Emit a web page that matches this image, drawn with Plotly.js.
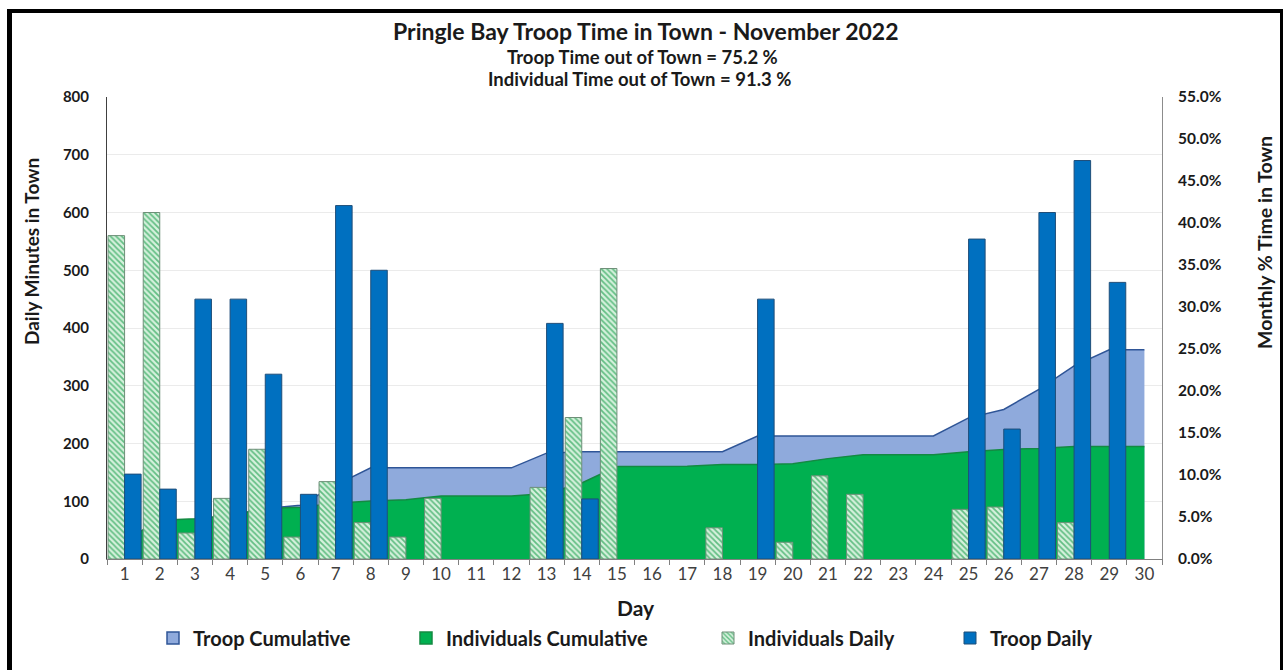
<!DOCTYPE html>
<html>
<head>
<meta charset="utf-8">
<script src="https://cdn.plot.ly/plotly-3.0.1.min.js"></script>
<style>
  body { margin: 0; background: #ffffff; }
  #chart { position: absolute; left: 0; top: 0; width: 1283px; height: 670px; }
  #frame { position: absolute; left: 7px; top: 9px; width: 1268px; height: 700px;
           border-left: 5px solid #000; border-top: 4px solid #000; border-right: 3px solid #000;
           pointer-events: none; }
</style>
</head>
<body>
<div id="chart"></div>
<div id="frame"></div>
<script>
// ---- Data ----
const days = ["1","2","3","4","5","6","7","8","9","10","11","12","13","14","15",
              "16","17","18","19","20","21","22","23","24","25","26","27","28","29","30"];

// Daily minutes in town (left axis)
const individualsDaily = [560, 600, 45, 105, 190, 38, 134, 63, 38, 105, 0, 0, 124, 245, 503,
                          0, 0, 54, 0, 29, 144, 112, 0, 0, 86, 90, 0, 63, 0, 0];
const troopDaily = [147, 121, 450, 450, 320, 112, 612, 500, 0, 0, 0, 0, 408, 104, 0,
                    0, 0, 0, 450, 0, 0, 0, 0, 0, 554, 225, 600, 690, 479, 0];

// Monthly cumulative % time in town (right axis)
const troopCumulative = [0.6, 1.1, 2.9, 4.7, 6.0, 6.4, 8.8, 10.85, 10.85, 10.85, 10.85, 10.85, 12.6, 12.77, 12.77,
                         12.77, 12.77, 12.77, 14.64, 14.64, 14.64, 14.64, 14.64, 14.64, 16.8, 17.8, 20.2, 23.0, 24.9, 24.9];
const individualsCumulative = [2.2, 4.6, 4.8, 5.2, 6.0, 6.15, 6.65, 6.9, 7.05, 7.5, 7.5, 7.5, 7.8, 9.05, 11.0,
                               11.0, 11.05, 11.25, 11.25, 11.35, 11.95, 12.4, 12.4, 12.4, 12.77, 13.05, 13.15, 13.4, 13.4, 13.4];

const leftTicks = [0, 100, 200, 300, 400, 500, 600, 700, 800];

const FONT = "Lato, 'Open Sans', 'DejaVu Sans', sans-serif";

// zero-minute days draw no bar at all
const noZero = arr => arr.map(v => (v === 0 ? null : v));

const blueFill = "#8FAADC", blueLine = "#2F5597";
const greenFill = "#00B050", greenLine = "#138A42";
const hatch = { shape: "\\", bgcolor: "#D6F1DD", fgcolor: "#63BE84", size: 4, solidity: 0.45 };

const traces = [
  {
    name: "Troop Cumulative", x: days, y: troopCumulative, yaxis: "y",
    type: "scatter", mode: "lines", fill: "tozeroy",
    fillcolor: blueFill, line: { color: blueLine, width: 1.5 },
    showlegend: false, hoverinfo: "x+y"
  },
  {
    name: "Individuals Cumulative", x: days, y: individualsCumulative, yaxis: "y",
    type: "scatter", mode: "lines", fill: "tozeroy",
    fillcolor: greenFill, line: { color: greenLine, width: 1.5 },
    showlegend: false, hoverinfo: "x+y"
  },
  // legend-only square keys for the two area series
  {
    name: "Troop Cumulative", x: [null], y: [null], yaxis: "y", type: "bar",
    marker: { color: blueFill, line: { color: blueLine, width: 1.5 } }, legend: "legend"
  },
  {
    name: "Individuals Cumulative", x: [null], y: [null], yaxis: "y", type: "bar",
    marker: { color: greenFill, line: { color: greenLine, width: 1.5 } }, legend: "legend2"
  },
  {
    name: "Individuals Daily", x: days, y: noZero(individualsDaily), yaxis: "y2",
    type: "bar",
    marker: { color: "#D6F1DD", line: { color: "#6E8F78", width: 1 }, pattern: hatch },
    legend: "legend3"
  },
  {
    name: "Troop Daily", x: days, y: noZero(troopDaily), yaxis: "y2",
    type: "bar",
    marker: { color: "#0070C0", line: { color: "#1F4E79", width: 1 } },
    legend: "legend4"
  }
];

function legendAt(px) {
  return {
    x: (px - 107) / 1055, y: (559 - 638) / 462, xanchor: "left", yanchor: "middle",
    orientation: "h", bgcolor: "rgba(0,0,0,0)", borderwidth: 0,
    font: { family: FONT, size: 20, color: "#1a1a1a", weight: 700 }
  };
}

const layout = {
  width: 1283, height: 670,
  margin: { l: 107, r: 121, t: 97, b: 111, pad: 0 },
  paper_bgcolor: "#ffffff", plot_bgcolor: "#ffffff",
  barmode: "group", bargap: 0.06, bargroupgap: 0,
  showlegend: true,
  font: { family: FONT, color: "#1a1a1a" },
  xaxis: {
    type: "category", range: [-0.5, 29.5],
    tickson: "boundaries", ticks: "outside", ticklen: 5, tickcolor: "#808080",
    showline: true, linecolor: "#808080", linewidth: 1, showgrid: false,
    tickfont: { family: FONT, size: 17, color: "#404040" }
  },
  yaxis: {
    side: "right", range: [0, 55], dtick: 5, tick0: 0,
    tickformat: ".1f", ticksuffix: "%",
    showgrid: false, zeroline: false, showline: true, linecolor: "#8c8c8c", linewidth: 1,
    ticks: "", ticklabelstandoff: 12,
    tickfont: { family: FONT, size: 15.5, color: "#1a1a1a", weight: 700 }
  },
  yaxis2: {
    overlaying: "y", side: "left", range: [0, 800],
    tickvals: leftTicks,
    showgrid: true, gridcolor: "#ebebeb", gridwidth: 1,
    zeroline: false, showline: true, linecolor: "#404040", linewidth: 1,
    ticks: "", ticklabelstandoff: 14,
    tickfont: { family: FONT, size: 15, color: "#1a1a1a", weight: 700 }
  },
  legend: legendAt(153),
  legend2: legendAt(406),
  legend3: legendAt(708),
  legend4: legendAt(950),
  annotations: [
    { text: "Pringle Bay Troop Time in Town - November 2022", xref: "paper", yref: "paper",
      x: (646 - 107) / 1055, y: (559 - 31) / 462, xanchor: "center", yanchor: "middle", showarrow: false,
      font: { family: FONT, size: 23, color: "#1a1a1a", weight: 700 } },
    { text: "Troop Time out of Town = 75.2 %", xref: "paper", yref: "paper",
      x: (642 - 107) / 1055, y: (559 - 57) / 462, xanchor: "center", yanchor: "middle", showarrow: false,
      font: { family: FONT, size: 18.5, color: "#1a1a1a", weight: 700 } },
    { text: "Individual Time out of Town = 91.3 %", xref: "paper", yref: "paper",
      x: (640 - 107) / 1055, y: (559 - 79) / 462, xanchor: "center", yanchor: "middle", showarrow: false,
      font: { family: FONT, size: 18.5, color: "#1a1a1a", weight: 700 } },
    { text: "Daily Minutes in Town", xref: "paper", yref: "paper", textangle: -90,
      x: (31 - 107) / 1055, y: (559 - 252) / 462, xanchor: "center", yanchor: "middle", showarrow: false,
      font: { family: FONT, size: 19, color: "#1a1a1a", weight: 700 } },
    { text: "Monthly % Time in Town", xref: "paper", yref: "paper", textangle: -90,
      x: (1265 - 107) / 1055, y: (559 - 243) / 462, xanchor: "center", yanchor: "middle", showarrow: false,
      font: { family: FONT, size: 19.5, color: "#1a1a1a", weight: 700 } },
    { text: "Day", xref: "paper", yref: "paper",
      x: (636 - 107) / 1055, y: (559 - 607) / 462, xanchor: "center", yanchor: "middle", showarrow: false,
      font: { family: FONT, size: 21, color: "#1a1a1a", weight: 700 } }
  ]
};

Plotly.newPlot("chart", traces, layout, { displayModeBar: false, staticPlot: true });
</script>
</body>
</html>
